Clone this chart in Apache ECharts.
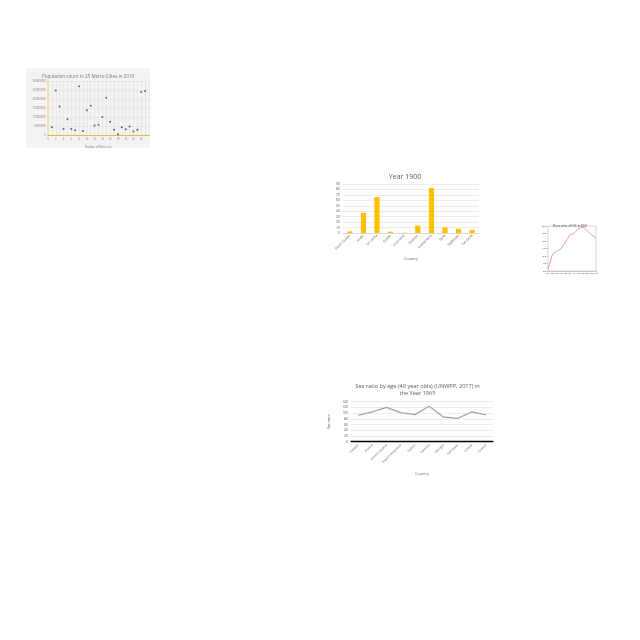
<!DOCTYPE html>
<html><head><meta charset="utf-8">
<script src="https://cdn.jsdelivr.net/npm/echarts@6/dist/echarts.min.js"></script>
<style>html,body{margin:0;padding:0;width:640px;height:640px;background:#fff;overflow:hidden}
.c{position:absolute}</style></head>
<body>
<div id="c1" class="c" style="left:26px;top:68px;width:124px;height:80px"></div>
<div id="c2" class="c" style="left:325px;top:168px;width:160px;height:95px"></div>
<div id="c3" class="c" style="left:535px;top:218px;width:70px;height:60px"></div>
<div id="c4" class="c" style="left:325px;top:378px;width:185px;height:100px"></div>
<script>
// Chart 1: scatter
const cityNumbers = [1,2,3,4,5,6,7,8,9,10,11,12,13,14,15,16,17,18,19,20,21,22,23,24,25];
const cityPopulation = [4350000,24700000,15850000,3400000,8700000,3400000,2650000,27150000,2250000,13750000,16250000,5300000,5650000,10000000,20750000,7350000,2850000,400000,4350000,3200000,4700000,1900000,2850000,23950000,24500000];
// Chart 2: bars
const countries1900 = ['South Sudan','Spain','Sri Lanka','Sudan','Suriname','Sweden','Switzerland','Syria','Tajikistan','Tanzania'];
const density1900 = [3,37,66,2.5,0.5,13.6,82.7,10.5,8,6];
// Chart 3: line
const months = ['Jan','Feb','Mar','Apr','May','Jun','Jul','Aug','Sep','Oct','Nov','Dec'];
const closePrice = [900,1057,1092,1117,1187,1264,1285,1330,1351,1309,1267,1232];
// Chart 4: line
const countries1965 = ['Finland','France','French Guiana','French Polynesia','Gabon','Gambia','Georgia','Germany','Ghana','Greece'];
const sexRatio1965 = [92.4,104,120.5,101.8,94.7,124,86.5,81.9,104,93.6];

const F = 'Open Sans, Liberation Sans, sans-serif';

const c1 = echarts.init(document.getElementById('c1'));
c1.setOption({
  backgroundColor:'#f3f3f3',
  textStyle:{fontFamily:F},
  title:{text:'Population count in 25 Metro Cities in 2018',left:'center',top:1,textStyle:{fontSize:4.6,color:'#777',fontWeight:'normal'}},
  grid:{left:22,right:1,top:13,bottom:13,outerBoundsMode:'none'},
  xAxis:{type:'value',min:0,max:26,interval:1,
    axisLine:{lineStyle:{color:'#e8b84a',width:1}},axisTick:{show:false},
    axisLabel:{fontSize:2.6,color:'#777',margin:3,formatter:v=>(v%2||v>24)?'':String(v)},
    splitLine:{lineStyle:{color:'#dcdcdc',width:0.5}},
    name:'Number of Metro City',nameLocation:'middle',nameGap:8,nameTextStyle:{fontSize:2.6,color:'#777'}},
  yAxis:{type:'value',min:0,max:30000000,interval:5000000,
    axisLine:{show:true,lineStyle:{color:'#f0dc9c',width:1.5}},axisTick:{show:false},
    axisLabel:{fontSize:2.8,color:'#777',margin:2.5,formatter:v=>String(v)},
    splitLine:{lineStyle:{color:'#dcdcdc',width:0.5}},
    name:'Population count',nameLocation:'middle',nameGap:16,nameTextStyle:{fontSize:2.6,color:'#777'}},
  series:[{type:'scatter',symbolSize:2,itemStyle:{color:'#2c3e6b'},
    data:cityNumbers.map((x,i)=>[x,cityPopulation[i]])}]
});

const c2 = echarts.init(document.getElementById('c2'));
c2.setOption({
  textStyle:{fontFamily:F},
  title:{text:'Year 1900',left:'center',top:0,textStyle:{fontSize:7,color:'#595959',fontWeight:'normal'}},
  grid:{left:18,right:6,top:16,bottom:30,outerBoundsMode:'none'},
  xAxis:{type:'category',data:countries1900,
    axisLine:{lineStyle:{color:'#d9d9d9'}},axisTick:{show:false},
    axisLabel:{rotate:45,fontSize:3.4,color:'#595959',interval:0,margin:2},
    name:'Country',nameLocation:'middle',nameGap:22,nameTextStyle:{fontSize:3.6,color:'#595959'}},
  yAxis:{type:'value',min:0,max:90,interval:10,
    axisLabel:{fontSize:3.4,color:'#595959',margin:3},
    splitLine:{lineStyle:{color:'#d9d9d9',width:0.5}},
    name:'Population Density',nameLocation:'middle',nameGap:13,nameTextStyle:{fontSize:3.6,color:'#595959'}},
  series:[{type:'bar',data:density1900,barWidth:'38%',itemStyle:{color:'#FFC000'}}]
});

const c3 = echarts.init(document.getElementById('c3'));
c3.setOption({
  textStyle:{fontFamily:F},
  title:{text:'Share price of HCL in 2022',left:'center',top:2,textStyle:{fontSize:2.8,color:'#333',fontWeight:'normal'}},
  grid:{left:13,right:9,top:8,bottom:7,show:true,borderColor:'#aaa',borderWidth:0.5,outerBoundsMode:'none'},
  xAxis:{type:'category',data:months,boundaryGap:false,
    axisLine:{lineStyle:{color:'#aaa',width:0.5}},axisTick:{lineStyle:{color:'#aaa',width:0.5},length:1},
    axisLabel:{fontSize:2,color:'#333',margin:1.5,interval:0},
    name:'Month',nameLocation:'middle',nameGap:4,nameTextStyle:{fontSize:2,color:'#333'}},
  yAxis:{type:'value',min:880,max:1360,interval:80,
    axisLine:{show:false},axisTick:{show:true,lineStyle:{color:'#aaa',width:0.5},length:1},
    axisLabel:{fontSize:2,color:'#333',margin:1.5},splitLine:{show:false},
    name:'Close Price',nameLocation:'middle',nameGap:7,nameTextStyle:{fontSize:2,color:'#333'}},
  series:[{type:'line',data:closePrice,symbol:'none',lineStyle:{color:'#e57373',width:0.7}}]
});

const c4 = echarts.init(document.getElementById('c4'));
c4.setOption({
  textStyle:{fontFamily:F},
  title:{text:'Sex ratio by age (40 year olds) (UNWPP, 2017) in\nthe Year 1965',left:'center',top:0,
    textStyle:{fontSize:5.6,lineHeight:7,color:'#595959',fontWeight:'normal'}},
  grid:{left:26,right:17,top:23.7,bottom:36.3,outerBoundsMode:'none'},
  xAxis:{type:'category',data:countries1965,
    axisLine:{lineStyle:{color:'#000',width:1.3}},axisTick:{show:false},
    axisLabel:{rotate:45,fontSize:3.2,color:'#595959',interval:0,margin:3},
    name:'Country',nameLocation:'middle',nameGap:30,nameTextStyle:{fontSize:3.6,color:'#595959'}},
  yAxis:{type:'value',min:0,max:140,interval:20,
    axisLabel:{fontSize:3.4,color:'#595959',margin:3},
    splitLine:{lineStyle:{color:'#d9d9d9',width:0.5}},
    name:'Sex ratio',nameLocation:'middle',nameGap:9,nameTextStyle:{fontSize:3.6,color:'#595959'}},
  series:[{type:'line',data:sexRatio1965,symbol:'none',lineStyle:{color:'#a5a5a5',width:1.3}}]
});
</script>
</body></html>
